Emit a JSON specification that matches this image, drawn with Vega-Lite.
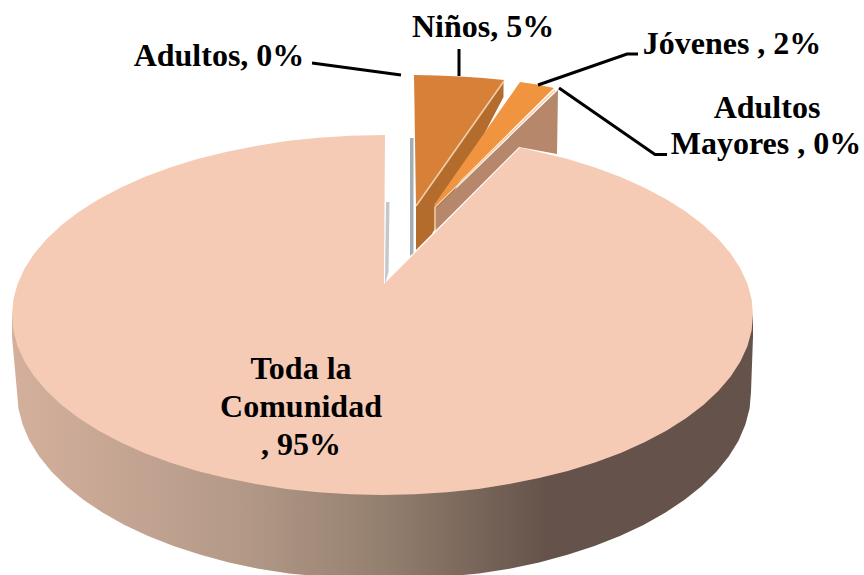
{"$schema":"https://vega.github.io/schema/vega-lite/v6.json","autosize":{"type":"fit","contains":"padding"},"width":864,"height":575,"padding":0,"background":"white","config":{"view":{"stroke":null}},
"datasets":{
"side":[{"i":0,"x":12,"y":315},{"i":1,"x":12,"y":337},{"i":2,"x":17,"y":392},{"i":3,"x":18.4,"y":408.4},{"i":4,"x":22.6,"y":424.6},{"i":5,"x":29.5,"y":440.7},{"i":6,"x":39.1,"y":456.3},{"i":7,"x":51.4,"y":471.5},{"i":8,"x":66.2,"y":486},{"i":9,"x":83.4,"y":499.8},{"i":10,"x":102.9,"y":512.8},{"i":11,"x":124.5,"y":524.9},{"i":12,"x":148.1,"y":536},{"i":13,"x":173.5,"y":546},{"i":14,"x":200.5,"y":554.8},{"i":15,"x":228.9,"y":562.4},{"i":16,"x":258.5,"y":568.7},{"i":17,"x":289,"y":573.6},{"i":18,"x":305,"y":575},{"i":19,"x":463,"y":575},{"i":20,"x":479,"y":573.6},{"i":21,"x":509.5,"y":568.7},{"i":22,"x":539.1,"y":562.4},{"i":23,"x":567.5,"y":554.8},{"i":24,"x":594.5,"y":546},{"i":25,"x":619.9,"y":536},{"i":26,"x":643.5,"y":524.9},{"i":27,"x":665.1,"y":512.8},{"i":28,"x":684.6,"y":499.8},{"i":29,"x":701.8,"y":486},{"i":30,"x":716.6,"y":471.5},{"i":31,"x":728.9,"y":456.3},{"i":32,"x":738.5,"y":440.7},{"i":33,"x":745.4,"y":424.6},{"i":34,"x":749.6,"y":408.4},{"i":35,"x":751,"y":392},{"i":36,"x":753,"y":337},{"i":37,"x":753,"y":315}],
"shapes":[
{"part":"sombra1","i":0,"x":386,"y":202},{"part":"sombra1","i":1,"x":389.5,"y":202},{"part":"sombra1","i":2,"x":388.5,"y":272},{"part":"sombra1","i":3,"x":385,"y":284},
{"part":"sombra2","i":0,"x":410,"y":138},{"part":"sombra2","i":1,"x":413.5,"y":138},{"part":"sombra2","i":2,"x":413.5,"y":253},{"part":"sombra2","i":3,"x":410,"y":256},
{"part":"pared Niños","i":0,"x":503.5,"y":80},{"part":"pared Niños","i":1,"x":503.5,"y":97},{"part":"pared Niños","i":2,"x":432,"y":234},{"part":"pared Niños","i":3,"x":416,"y":250},{"part":"pared Niños","i":4,"x":416,"y":206},
{"part":"pared Mayores","i":0,"x":558,"y":90},{"part":"pared Mayores","i":1,"x":557,"y":154},{"part":"pared Mayores","i":2,"x":519,"y":147},{"part":"pared Mayores","i":3,"x":436,"y":230},{"part":"pared Mayores","i":4,"x":436,"y":208},
{"part":"Niños","i":0,"x":414,"y":75},{"part":"Niños","i":1,"x":437,"y":75.5},{"part":"Niños","i":2,"x":460,"y":76.5},{"part":"Niños","i":3,"x":483,"y":78},{"part":"Niños","i":4,"x":504,"y":80},{"part":"Niños","i":5,"x":416,"y":206},
{"part":"Jóvenes","i":0,"x":520,"y":82},{"part":"Jóvenes","i":1,"x":537,"y":84.5},{"part":"Jóvenes","i":2,"x":554,"y":88},{"part":"Jóvenes","i":3,"x":436,"y":205},{"part":"Jóvenes","i":4,"x":434,"y":205},
{"part":"Toda la Comunidad","i":0,"x":385,"y":135},{"part":"Toda la Comunidad","i":1,"x":350.2,"y":135.7},{"part":"Toda la Comunidad","i":2,"x":318.2,"y":137.7},{"part":"Toda la Comunidad","i":3,"x":286.6,"y":141.1},{"part":"Toda la Comunidad","i":4,"x":255.8,"y":145.9},{"part":"Toda la Comunidad","i":5,"x":225.9,"y":151.9},{"part":"Toda la Comunidad","i":6,"x":197.2,"y":159.1},{"part":"Toda la Comunidad","i":7,"x":170,"y":167.5},{"part":"Toda la Comunidad","i":8,"x":144.3,"y":177.1},{"part":"Toda la Comunidad","i":9,"x":120.5,"y":187.7},{"part":"Toda la Comunidad","i":10,"x":98.7,"y":199.3},{"part":"Toda la Comunidad","i":11,"x":79,"y":211.8},{"part":"Toda la Comunidad","i":12,"x":61.6,"y":225},{"part":"Toda la Comunidad","i":13,"x":46.7,"y":238.9},{"part":"Toda la Comunidad","i":14,"x":34.3,"y":253.4},{"part":"Toda la Comunidad","i":15,"x":24.6,"y":268.4},{"part":"Toda la Comunidad","i":16,"x":17.6,"y":283.7},{"part":"Toda la Comunidad","i":17,"x":13.4,"y":299.3},{"part":"Toda la Comunidad","i":18,"x":12,"y":315},{"part":"Toda la Comunidad","i":19,"x":13.4,"y":330.7},{"part":"Toda la Comunidad","i":20,"x":17.6,"y":346.3},{"part":"Toda la Comunidad","i":21,"x":24.6,"y":361.6},{"part":"Toda la Comunidad","i":22,"x":34.3,"y":376.6},{"part":"Toda la Comunidad","i":23,"x":46.7,"y":391.1},{"part":"Toda la Comunidad","i":24,"x":61.6,"y":405},{"part":"Toda la Comunidad","i":25,"x":79,"y":418.2},{"part":"Toda la Comunidad","i":26,"x":98.7,"y":430.7},{"part":"Toda la Comunidad","i":27,"x":120.5,"y":442.3},{"part":"Toda la Comunidad","i":28,"x":144.3,"y":452.9},{"part":"Toda la Comunidad","i":29,"x":170,"y":462.5},{"part":"Toda la Comunidad","i":30,"x":197.2,"y":470.9},{"part":"Toda la Comunidad","i":31,"x":225.9,"y":478.1},{"part":"Toda la Comunidad","i":32,"x":255.8,"y":484.1},{"part":"Toda la Comunidad","i":33,"x":286.6,"y":488.9},{"part":"Toda la Comunidad","i":34,"x":318.2,"y":492.3},{"part":"Toda la Comunidad","i":35,"x":350.2,"y":494.3},{"part":"Toda la Comunidad","i":36,"x":382.5,"y":495},{"part":"Toda la Comunidad","i":37,"x":414.8,"y":494.3},{"part":"Toda la Comunidad","i":38,"x":446.8,"y":492.3},{"part":"Toda la Comunidad","i":39,"x":478.4,"y":488.9},{"part":"Toda la Comunidad","i":40,"x":509.2,"y":484.1},{"part":"Toda la Comunidad","i":41,"x":539.1,"y":478.1},{"part":"Toda la Comunidad","i":42,"x":567.8,"y":470.9},{"part":"Toda la Comunidad","i":43,"x":595,"y":462.5},{"part":"Toda la Comunidad","i":44,"x":620.7,"y":452.9},{"part":"Toda la Comunidad","i":45,"x":644.5,"y":442.3},{"part":"Toda la Comunidad","i":46,"x":666.3,"y":430.7},{"part":"Toda la Comunidad","i":47,"x":686,"y":418.2},{"part":"Toda la Comunidad","i":48,"x":703.4,"y":405},{"part":"Toda la Comunidad","i":49,"x":718.3,"y":391.1},{"part":"Toda la Comunidad","i":50,"x":730.7,"y":376.6},{"part":"Toda la Comunidad","i":51,"x":740.4,"y":361.6},{"part":"Toda la Comunidad","i":52,"x":747.4,"y":346.3},{"part":"Toda la Comunidad","i":53,"x":751.6,"y":330.7},{"part":"Toda la Comunidad","i":54,"x":753,"y":315},{"part":"Toda la Comunidad","i":55,"x":751.6,"y":299.3},{"part":"Toda la Comunidad","i":56,"x":747.4,"y":283.7},{"part":"Toda la Comunidad","i":57,"x":740.4,"y":268.4},{"part":"Toda la Comunidad","i":58,"x":730.7,"y":253.4},{"part":"Toda la Comunidad","i":59,"x":718.3,"y":238.9},{"part":"Toda la Comunidad","i":60,"x":703.4,"y":225},{"part":"Toda la Comunidad","i":61,"x":686,"y":211.8},{"part":"Toda la Comunidad","i":62,"x":666.3,"y":199.3},{"part":"Toda la Comunidad","i":63,"x":644.5,"y":187.7},{"part":"Toda la Comunidad","i":64,"x":620.7,"y":177.1},{"part":"Toda la Comunidad","i":65,"x":595,"y":167.5},{"part":"Toda la Comunidad","i":66,"x":567.8,"y":159.1},{"part":"Toda la Comunidad","i":67,"x":539.1,"y":151.9},{"part":"Toda la Comunidad","i":68,"x":520,"y":147.5},{"part":"Toda la Comunidad","i":69,"x":384,"y":284}
],
"edges":[
{"id":"n","i":0,"x":504,"y":81},{"id":"n","i":1,"x":416,"y":206},
{"id":"m","i":0,"x":555,"y":90},{"id":"m","i":1,"x":435,"y":207},{"id":"m","i":2,"x":435,"y":231}
],
"leaders":[
{"id":"Adultos","i":0,"x":312,"y":63},{"id":"Adultos","i":1,"x":401,"y":75},
{"id":"Niños","i":0,"x":459,"y":49},{"id":"Niños","i":1,"x":459,"y":76},
{"id":"Jóvenes","i":0,"x":638,"y":54},{"id":"Jóvenes","i":1,"x":627,"y":54},{"id":"Jóvenes","i":2,"x":538,"y":85},
{"id":"Mayores","i":0,"x":559,"y":88},{"id":"Mayores","i":1,"x":655,"y":154.5},{"id":"Mayores","i":2,"x":667,"y":154.5}
],
"labels":[
{"t":"Niños, 5%","x":483,"y":27},
{"t":"Adultos, 0%","x":219,"y":56},
{"t":"Jóvenes , 2%","x":732,"y":44},
{"t":"Adultos","x":767,"y":108},
{"t":"Mayores , 0%","x":766,"y":144},
{"t":"Toda la","x":301,"y":369},
{"t":"Comunidad","x":301,"y":407},
{"t":", 95%","x":301,"y":445}
]},
"encoding":{
"x":{"field":"x","type":"quantitative","axis":null,"scale":{"domain":[0,864],"nice":false,"zero":false}},
"y":{"field":"y","type":"quantitative","axis":null,"scale":{"domain":[0,575],"reverse":true,"nice":false,"zero":false}}
},
"layer":[
{"data":{"name":"side"},"mark":{"type":"line","filled":true,"strokeWidth":0,"fill":{"gradient":"linear","x1":0,"y1":0,"x2":1,"y2":0,"stops":[{"offset":0,"color":"#d4b09c"},{"offset":0.3,"color":"#b59a89"},{"offset":0.5,"color":"#94806f"},{"offset":0.72,"color":"#65524a"},{"offset":1,"color":"#65524a"}]}},"encoding":{"order":{"field":"i","type":"quantitative"}}},
{"data":{"name":"shapes"},"mark":{"type":"line","filled":true,"strokeWidth":0},"encoding":{"order":{"field":"i","type":"quantitative"},"color":{"field":"part","type":"nominal","legend":null,"sort":null,"scale":{"domain":["sombra1","sombra2","pared Niños","pared Mayores","Niños","Jóvenes","Toda la Comunidad"],"range":["#c3c8cc","#a3adb5","#b46c2c","#b6876b","#d78138","#f0943f","#f5cbb5"]}}}},
{"data":{"name":"edges"},"mark":{"type":"line","stroke":"#f2cdaa","strokeWidth":1.6},"encoding":{"order":{"field":"i","type":"quantitative"},"detail":{"field":"id"}}},
{"data":{"name":"leaders"},"mark":{"type":"line","stroke":"#000000","strokeWidth":3},"encoding":{"order":{"field":"i","type":"quantitative"},"detail":{"field":"id"}}},
{"data":{"name":"labels"},"mark":{"type":"text","font":"Liberation Serif","fontWeight":"bold","fontSize":32,"color":"#000000","align":"center","baseline":"middle"},"encoding":{"text":{"field":"t"}}}
]}
